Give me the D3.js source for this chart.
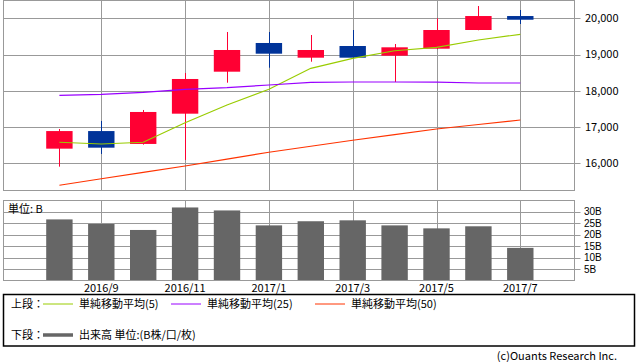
<!DOCTYPE html>
<html>
<head>
<meta charset="utf-8">
<script src="https://cdn.jsdelivr.net/npm/d3@7.9.0/dist/d3.min.js"></script>
<style>
  body { margin: 0; background: #fff; }
  svg text { font-family: "Noto Sans CJK JP", "Noto Sans", sans-serif; fill: #000; }
  svg text.vy { font-family: "Liberation Sans", "DejaVu Sans", sans-serif; }
</style>
</head>
<body>
<svg id="chart" width="638" height="362"></svg>
<script>
const months = ['2016/8', '2016/9', '2016/10', '2016/11', '2016/12', '2017/1',
  '2017/2', '2017/3', '2017/4', '2017/5', '2017/6', '2017/7'];
const open = [16408, 16893, 16538, 17372, 18529, 19320, 18915, 19237, 18970, 19163, 19678, 20063];
const close = [16893, 16435, 17419, 18328, 19127, 19025, 19127, 18915, 19201, 19678, 20063, 19961];
const high = [16950, 17171, 17474, 18493, 19623, 19623, 19540, 19678, 19292, 20000, 20339, 20229];
const low = [15912, 16262, 16520, 16097, 18226, 18639, 18804, 18900, 18245, 19150, 19670, 19843];
const ma5 = [16584, 16537, 16584, 17124, 17612, 18044, 18622, 18898, 19107, 19201, 19402, 19559];
const ma25 = [17879, 17906, 17960, 18043, 18090, 18163, 18236, 18245, 18245, 18240, 18218, 18218];
const ma50 = [15400, 15579, 15755, 15931, 16118, 16309, 16474, 16639, 16793, 16950, 17074, 17198];
const volume = [26.6, 24.6, 22.0, 31.8, 30.5, 24.0, 25.8, 26.2, 24.0, 22.7, 23.6, 14.2];
const priceTicks = [16000, 17000, 18000, 19000, 20000];
const volTicks = [5, 10, 15, 20, 25, 30];
const xTickLabels = ['2016/9', '2016/11', '2017/1', '2017/3', '2017/5', '2017/7'];

const svg = d3.select('#chart');
const grid = '#999999';
const left = 3.5, right = 574.5;

const x = d3.scaleBand().domain(months).range([38.45, 541.25])
  .paddingInner(0.37).paddingOuter(0.185);
const cx = m => x(m) + x.bandwidth() / 2;

// ---- upper panel: candles + moving averages
const yTop = d3.scaleLinear().domain([15255, 20491]).range([190.5, 0.5]);
const upper = svg.append('g');

upper.selectAll('line.hg').data(priceTicks).join('line')
  .attr('x1', left).attr('x2', right + 6)
  .attr('y1', d => Math.round(yTop(d)) + 0.5).attr('y2', d => Math.round(yTop(d)) + 0.5)
  .attr('stroke', grid);
upper.selectAll('line.vg').data(xTickLabels).join('line')
  .attr('x1', d => Math.round(cx(d)) + 0.5).attr('x2', d => Math.round(cx(d)) + 0.5)
  .attr('y1', 0.5).attr('y2', 190.5).attr('stroke', grid);
upper.append('rect').attr('x', left).attr('y', 0.5).attr('width', right - left).attr('height', 190)
  .attr('fill', 'none').attr('stroke', grid);
upper.selectAll('text.py').data(priceTicks).join('text')
  .attr('x', 585).attr('y', d => yTop(d)).attr('dy', '0.35em')
  .attr('font-size', 11).text(d3.format(','));

const candles = months.map((m, i) => ({ m, o: open[i], c: close[i], h: high[i], l: low[i] }));
const col = d => d.c >= d.o ? '#ff0033' : '#003399';
upper.selectAll('line.wick').data(candles).join('line')
  .attr('x1', d => Math.round(cx(d.m)) + 0.5).attr('x2', d => Math.round(cx(d.m)) + 0.5)
  .attr('y1', d => yTop(d.h)).attr('y2', d => yTop(d.l)).attr('stroke', col);
upper.selectAll('rect.body').data(candles).join('rect')
  .attr('x', d => x(d.m)).attr('width', x.bandwidth())
  .attr('y', d => yTop(Math.max(d.o, d.c)))
  .attr('height', d => Math.max(1, Math.abs(yTop(d.o) - yTop(d.c))))
  .attr('fill', col);

const maLine = d3.line().x((d, i) => cx(months[i])).y(d => yTop(d));
[[ma5, '#99cc00'], [ma25, '#9900ff'], [ma50, '#ff3300']].forEach(([s, c]) => {
  upper.append('path').attr('d', maLine(s)).attr('fill', 'none').attr('stroke', c).attr('stroke-width', 1.2);
});

// ---- lower panel: volume
const yVol = d3.scaleLinear().domain([0, 34.7]).range([280.5, 200.8]);
const lower = svg.append('g');
lower.selectAll('line.hg').data(volTicks).join('line')
  .attr('x1', left).attr('x2', right + 6)
  .attr('y1', d => Math.round(yVol(d)) + 0.5).attr('y2', d => Math.round(yVol(d)) + 0.5)
  .attr('stroke', grid);
lower.selectAll('line.vg').data(xTickLabels).join('line')
  .attr('x1', d => Math.round(cx(d)) + 0.5).attr('x2', d => Math.round(cx(d)) + 0.5)
  .attr('y1', 200.5).attr('y2', 280.5).attr('stroke', grid);
lower.selectAll('rect.bar').data(volume).join('rect')
  .attr('x', (d, i) => x(months[i])).attr('width', x.bandwidth())
  .attr('y', d => yVol(d)).attr('height', d => yVol(0) - yVol(d))
  .attr('fill', '#666666');
lower.append('rect').attr('x', left).attr('y', 200.5).attr('width', right - left).attr('height', 80)
  .attr('fill', 'none').attr('stroke', grid);
lower.selectAll('text.vy').data(volTicks).join('text')
  .attr('class', 'vy')
  .attr('x', 584).attr('y', d => yVol(d)).attr('dy', '0.35em')
  .attr('font-size', 10).text(d => d + 'B');
lower.append('text').attr('x', 8).attr('y', 209).attr('dy', '0.35em')
  .attr('font-size', 11).text('単位: B');
lower.selectAll('text.xl').data(xTickLabels).join('text')
  .attr('x', d => cx(d)).attr('y', 288).attr('dy', '0.35em')
  .attr('text-anchor', 'middle').attr('font-size', 11).text(d => d);

// ---- legend
const lg = svg.append('g');
lg.append('rect').attr('x', 3.5).attr('y', 294.5).attr('width', 631).attr('height', 51.5)
  .attr('fill', 'none').attr('stroke', '#000').attr('stroke-width', 1.5);
const legendRows = [
  { y: 304, label: '上段：', items: [
    { x: 43, text: '単純移動平均(5)', color: '#99cc00', w: 1 },
    { x: 171, text: '単純移動平均(25)', color: '#9900ff', w: 1 },
    { x: 315, text: '単純移動平均(50)', color: '#ff3300', w: 1 }] },
  { y: 335, label: '下段：', items: [
    { x: 43, text: '出来高 単位:(B株/口/枚)', color: '#666666', w: 3.5 }] }
];
legendRows.forEach(r => {
  lg.append('text').attr('x', 11).attr('y', r.y).attr('dy', '0.35em').attr('font-size', 11).text(r.label);
  r.items.forEach(it => {
    lg.append('line').attr('x1', it.x).attr('x2', it.x + 30).attr('y1', r.y).attr('y2', r.y)
      .attr('stroke', it.color).attr('stroke-width', it.w);
    lg.append('text').attr('x', it.x + 36).attr('y', r.y).attr('dy', '0.35em')
      .attr('font-size', 11).text(it.text);
  });
});

svg.append('text').attr('x', 617).attr('y', 356).attr('dy', '0.35em')
  .attr('text-anchor', 'end').attr('font-size', 11).attr('fill', '#333')
  .text('(c)Ouants Research Inc.');
</script>
</body>
</html>
